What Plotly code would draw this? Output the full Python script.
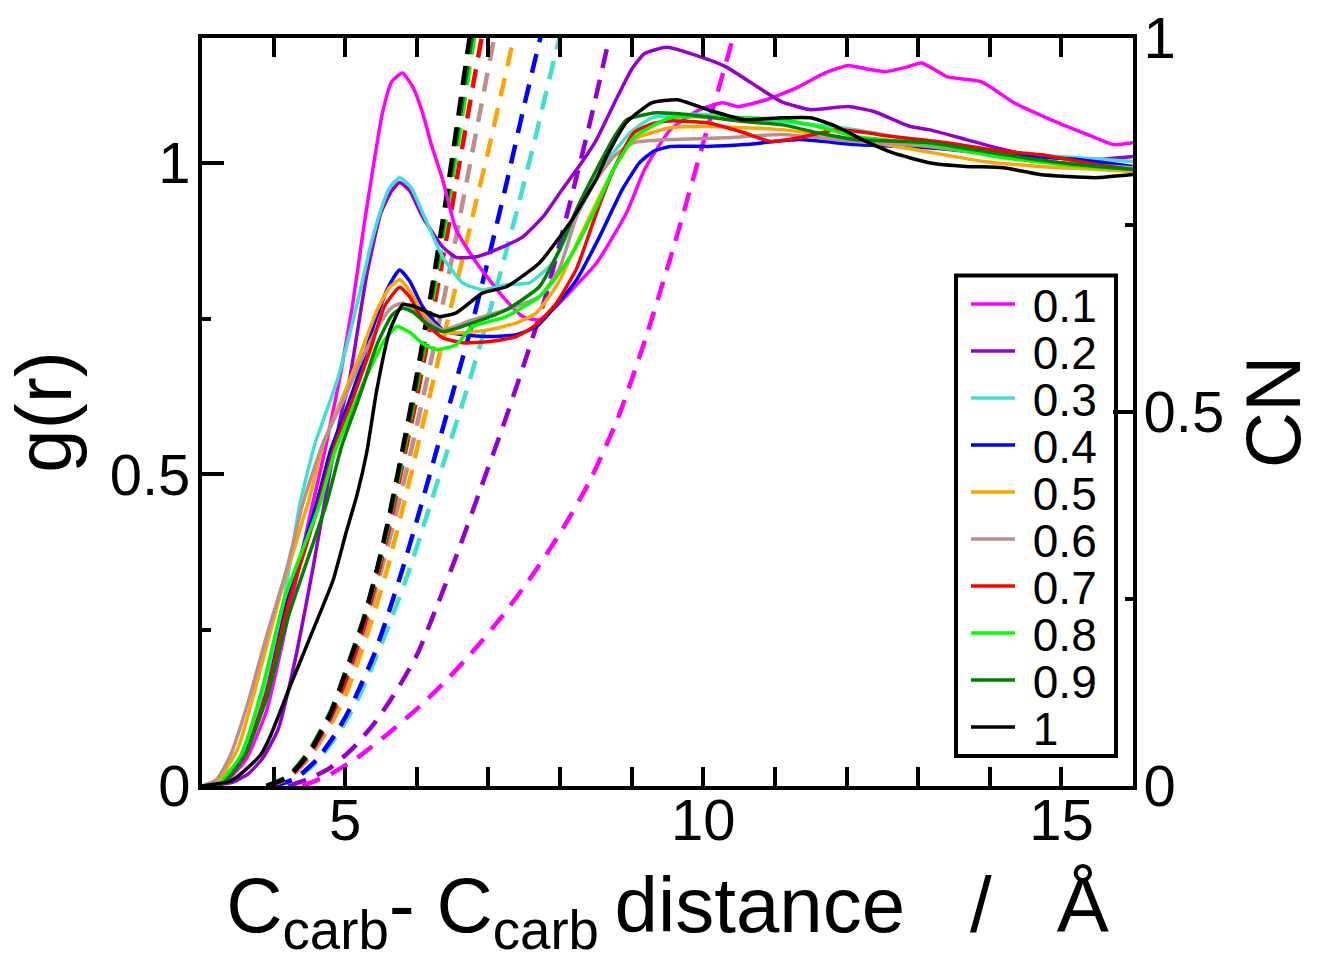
import plotly.graph_objects as go

FONT = "Liberation Sans, Arial, Helvetica, sans-serif"

# ---------------- data ----------------
fractions = ["0.1", "0.2", "0.3", "0.4", "0.5", "0.6", "0.7", "0.8", "0.9", "1"]
colors = ["#FF00FF", "#9400D3", "#40E0D0", "#0000FF", "#FFA500",
          "#BC8F8F", "#FF0000", "#00FF00", "#008000", "#000000"]

# g(r) curves (solid), r in Angstrom
gr_r_01 = [3.0, 3.3, 3.6, 3.9, 4.2, 4.5, 4.7, 4.92, 5.1, 5.25, 5.4, 5.52, 5.65, 5.8, 5.95, 6.08, 6.2, 6.36, 6.55, 6.83, 7.2, 7.48, 7.71, 7.97, 8.2, 8.51, 8.93, 9.18, 9.54, 9.95, 10.27, 10.48, 10.88, 11.3, 11.7, 12.02, 12.3, 12.54, 12.8, 13.05, 13.4, 13.88, 14.34, 14.85, 15.43, 15.73, 16.0]
gr_g_01 = [0.0, 0.005, 0.04, 0.12, 0.27, 0.43, 0.53, 0.652, 0.77, 0.89, 1.0, 1.08, 1.13, 1.144, 1.12, 1.08, 1.03, 0.973, 0.892, 0.84, 0.785, 0.753, 0.748, 0.772, 0.8, 0.839, 0.92, 0.989, 1.053, 1.085, 1.096, 1.09, 1.101, 1.12, 1.144, 1.156, 1.15, 1.146, 1.152, 1.16, 1.138, 1.13, 1.096, 1.069, 1.042, 1.029, 1.032]

gr_r_02 = [3.0, 3.4, 3.65, 3.85, 4.06, 4.27, 4.55, 4.75, 4.95, 5.06, 5.3, 5.5, 5.65, 5.76, 5.9, 6.08, 6.36, 6.55, 6.83, 7.2, 7.48, 7.76, 8.03, 8.3, 8.5, 8.65, 8.82, 9.0, 9.18, 9.49, 9.95, 10.31, 10.67, 11.09, 11.5, 12.02, 12.38, 12.89, 13.15, 13.67, 14.19, 14.7, 15.47, 16.0]
gr_g_02 = [0.0, 0.005, 0.02, 0.045, 0.09, 0.186, 0.35, 0.48, 0.6, 0.652, 0.82, 0.92, 0.955, 0.968, 0.955, 0.913, 0.865, 0.848, 0.849, 0.865, 0.881, 0.913, 0.957, 1.0, 1.035, 1.07, 1.11, 1.15, 1.175, 1.185, 1.17, 1.154, 1.128, 1.098, 1.085, 1.09, 1.082, 1.058, 1.053, 1.037, 1.021, 1.01, 1.005, 1.01]

gr_r_03 = [3.0, 3.2, 3.5, 3.8, 4.1, 4.37, 4.58, 4.75, 4.9, 5.05, 5.2, 5.35, 5.5, 5.62, 5.76, 5.92, 6.08, 6.36, 6.64, 6.92, 7.25, 7.57, 7.9, 8.3, 8.7, 9.0, 9.28, 9.7, 10.06, 10.5, 11.09, 12.12, 13.15, 14.19, 15.22, 16.0]
gr_g_03 = [0.0, 0.005, 0.04, 0.13, 0.27, 0.454, 0.55, 0.605, 0.655, 0.72, 0.79, 0.865, 0.925, 0.96, 0.976, 0.96, 0.92, 0.849, 0.807, 0.796, 0.804, 0.807, 0.84, 0.93, 1.01, 1.05, 1.072, 1.077, 1.077, 1.072, 1.066, 1.053, 1.032, 1.016, 1.008, 1.002]

gr_r_04 = [3.0, 3.3, 3.6, 3.9, 4.2, 4.6, 4.8, 5.0, 5.2, 5.4, 5.6, 5.76, 5.9, 6.08, 6.36, 6.64, 7.02, 7.39, 7.67, 7.95, 8.23, 8.55, 8.87, 9.11, 9.3, 9.54, 10.06, 10.57, 11.34, 12.12, 13.15, 14.19, 15.22, 16.0]
gr_g_04 = [0.0, 0.005, 0.05, 0.15, 0.3, 0.454, 0.54, 0.6, 0.665, 0.74, 0.8, 0.828, 0.81, 0.769, 0.732, 0.724, 0.721, 0.724, 0.737, 0.772, 0.812, 0.881, 0.957, 1.0, 1.018, 1.026, 1.026, 1.029, 1.037, 1.029, 1.024, 1.013, 1.005, 0.994]

gr_r_05 = [3.0, 3.2, 3.5, 3.8, 4.1, 4.48, 4.7, 4.95, 5.2, 5.45, 5.62, 5.76, 5.9, 6.08, 6.36, 6.64, 7.02, 7.39, 7.67, 7.99, 8.23, 8.51, 8.75, 9.03, 9.54, 10.06, 11.09, 12.12, 13.0, 13.92, 14.7, 15.4, 16.0]
gr_g_05 = [0.0, 0.005, 0.06, 0.18, 0.31, 0.454, 0.55, 0.62, 0.69, 0.765, 0.8, 0.812, 0.795, 0.759, 0.729, 0.727, 0.732, 0.743, 0.759, 0.81, 0.87, 0.936, 0.99, 1.037, 1.056, 1.058, 1.053, 1.037, 1.02, 1.002, 0.994, 0.99, 0.986]

gr_r_06 = [3.0, 3.2, 3.4, 3.64, 3.9, 4.18, 4.41, 4.69, 5.0, 5.25, 5.5, 5.65, 5.8, 6.0, 6.36, 6.78, 7.25, 7.71, 7.99, 8.25, 8.51, 8.75, 9.03, 9.54, 10.31, 11.09, 12.12, 13.15, 14.19, 15.0, 16.0]
gr_g_06 = [0.0, 0.01, 0.05, 0.133, 0.24, 0.347, 0.454, 0.55, 0.625, 0.69, 0.745, 0.768, 0.775, 0.76, 0.732, 0.748, 0.764, 0.785, 0.83, 0.92, 0.973, 1.01, 1.032, 1.037, 1.04, 1.045, 1.034, 1.026, 1.01, 1.0, 0.992]

gr_r_07 = [3.0, 3.3, 3.6, 3.9, 4.2, 4.6, 4.85, 5.1, 5.35, 5.55, 5.76, 5.9, 6.08, 6.36, 6.64, 7.02, 7.39, 7.67, 7.95, 8.23, 8.51, 8.75, 9.03, 9.3, 9.54, 10.06, 10.57, 10.94, 11.34, 11.86, 12.64, 13.4, 14.19, 14.7, 15.47, 16.0]
gr_g_07 = [0.0, 0.005, 0.05, 0.15, 0.29, 0.44, 0.545, 0.62, 0.7, 0.77, 0.8, 0.785, 0.748, 0.719, 0.711, 0.713, 0.721, 0.74, 0.775, 0.83, 0.92, 0.99, 1.048, 1.063, 1.067, 1.064, 1.048, 1.034, 1.04, 1.053, 1.042, 1.032, 1.018, 1.013, 0.997, 0.989]

gr_r_08 = [3.0, 3.25, 3.55, 3.85, 4.15, 4.65, 4.85, 5.1, 5.35, 5.55, 5.72, 5.9, 6.08, 6.28, 6.55, 6.78, 7.25, 7.71, 7.95, 8.2, 8.51, 8.75, 9.03, 9.54, 10.57, 11.09, 11.6, 12.12, 13.15, 14.19, 15.2, 16.0]
gr_g_08 = [0.0, 0.005, 0.05, 0.16, 0.3, 0.454, 0.535, 0.605, 0.67, 0.715, 0.737, 0.728, 0.71, 0.7, 0.708, 0.737, 0.753, 0.785, 0.817, 0.86, 0.93, 0.99, 1.04, 1.072, 1.072, 1.069, 1.058, 1.042, 1.029, 1.008, 0.995, 0.989]

gr_r_09 = [3.0, 3.3, 3.6, 3.9, 4.2, 4.74, 4.95, 5.2, 5.45, 5.65, 5.8, 5.95, 6.1, 6.36, 6.78, 7.25, 7.71, 7.99, 8.25, 8.51, 8.75, 8.93, 9.34, 9.8, 10.57, 11.09, 11.6, 12.12, 13.15, 14.19, 15.22, 16.0]
gr_g_09 = [0.0, 0.005, 0.05, 0.14, 0.27, 0.454, 0.545, 0.625, 0.71, 0.755, 0.767, 0.76, 0.745, 0.729, 0.743, 0.764, 0.801, 0.86, 0.93, 0.989, 1.04, 1.069, 1.08, 1.077, 1.066, 1.061, 1.048, 1.037, 1.032, 1.013, 0.997, 0.989]

gr_r_10 = [3.0, 3.4, 3.6, 3.82, 3.95, 4.23, 4.55, 4.83, 5.02, 5.16, 5.3, 5.44, 5.62, 5.8, 5.95, 6.15, 6.32, 6.55, 6.92, 7.25, 7.71, 8.17, 8.51, 8.65, 8.93, 9.28, 9.64, 10.06, 10.57, 11.09, 11.5, 11.86, 12.22, 12.64, 13.15, 13.67, 14.19, 14.7, 15.47, 16.0]
gr_g_10 = [0.0, 0.008, 0.025, 0.05, 0.079, 0.16, 0.25, 0.33, 0.41, 0.465, 0.535, 0.635, 0.73, 0.772, 0.77, 0.76, 0.753, 0.759, 0.791, 0.801, 0.839, 0.909, 0.975, 1.01, 1.065, 1.096, 1.101, 1.085, 1.069, 1.072, 1.072, 1.058, 1.037, 1.016, 1.0, 0.994, 0.992, 0.981, 0.976, 0.981]

# coordination number curves (dashed, right axis)
cn_r_01 = [4.4, 4.8, 5.2, 5.6, 6.0, 6.4, 6.8, 7.2, 7.6, 8.0, 8.4, 8.8, 9.2, 9.6, 10.0, 10.4, 10.8]
cn_n_01 = [0.0, 0.016, 0.04, 0.07, 0.103, 0.14, 0.182, 0.228, 0.28, 0.338, 0.405, 0.49, 0.6, 0.725, 0.86, 0.995, 1.13]

cn_r_02 = [4.2, 4.5, 4.8, 5.1, 5.4, 5.7, 6.0, 6.3, 6.6, 6.9, 7.2, 7.5, 7.8, 8.1, 8.4, 8.7, 9.0]
cn_n_02 = [0.0, 0.01, 0.025, 0.05, 0.083, 0.125, 0.175, 0.245, 0.32, 0.4, 0.48, 0.565, 0.655, 0.765, 0.88, 1.005, 1.13]

cn_r_03 = [4.0, 4.3, 4.6, 4.9, 5.15, 5.4, 5.65, 5.9, 6.15, 6.4, 6.65, 6.9, 7.15, 7.4, 7.65, 7.9, 8.15]
cn_n_03 = [0.0, 0.009, 0.032, 0.07, 0.111, 0.165, 0.225, 0.29, 0.365, 0.44, 0.515, 0.595, 0.68, 0.77, 0.865, 0.965, 1.06]

cn_r_04 = [4.0, 4.3, 4.6, 4.9, 5.1, 5.4, 5.6, 5.8, 6.0, 6.25, 6.5, 6.75, 7.0, 7.25, 7.5, 7.75, 8.0]
cn_n_04 = [0.0, 0.01, 0.035, 0.075, 0.11, 0.175, 0.23, 0.29, 0.355, 0.44, 0.525, 0.61, 0.705, 0.805, 0.91, 1.01, 1.1]

cn_r_05 = [3.9, 4.2, 4.5, 4.8, 5.0, 5.3, 5.58, 5.8, 6.0, 6.2, 6.4, 6.6, 6.8, 7.0, 7.2, 7.4, 7.6]
cn_n_05 = [0.0, 0.01, 0.038, 0.083, 0.12, 0.2, 0.288, 0.37, 0.45, 0.53, 0.61, 0.69, 0.77, 0.85, 0.935, 1.02, 1.1]

cn_r_06 = [3.9, 4.2, 4.5, 4.8, 5.0, 5.25, 5.5, 5.7, 5.9, 6.1, 6.3, 6.5, 6.7, 6.9, 7.1, 7.3]
cn_n_06 = [0.0, 0.01, 0.04, 0.088, 0.135, 0.2, 0.288, 0.36, 0.44, 0.525, 0.615, 0.71, 0.81, 0.91, 1.01, 1.1]

cn_r_07 = [3.9, 4.2, 4.5, 4.8, 5.0, 5.25, 5.46, 5.6, 5.8, 6.0, 6.2, 6.4, 6.6, 6.8, 7.0]
cn_n_07 = [0.0, 0.011, 0.043, 0.093, 0.14, 0.21, 0.285, 0.34, 0.43, 0.52, 0.62, 0.725, 0.835, 0.945, 1.05]

cn_r_08 = [3.9, 4.2, 4.5, 4.8, 5.0, 5.25, 5.44, 5.6, 5.8, 6.0, 6.2, 6.4, 6.6, 6.75, 6.9]
cn_n_08 = [0.0, 0.013, 0.047, 0.1, 0.15, 0.22, 0.285, 0.348, 0.44, 0.535, 0.64, 0.755, 0.875, 0.97, 1.06]

cn_r_09 = [3.9, 4.2, 4.5, 4.8, 5.0, 5.25, 5.44, 5.6, 5.8, 6.0, 6.2, 6.4, 6.6, 6.75, 6.9]
cn_n_09 = [0.0, 0.013, 0.047, 0.1, 0.152, 0.222, 0.288, 0.352, 0.445, 0.54, 0.65, 0.77, 0.895, 0.99, 1.08]

cn_r_10 = [3.9, 4.2, 4.5, 4.8, 5.0, 5.25, 5.44, 5.6, 5.8, 6.0, 6.2, 6.4, 6.6, 6.75, 6.9]
cn_n_10 = [0.0, 0.012, 0.045, 0.098, 0.15, 0.22, 0.288, 0.355, 0.45, 0.55, 0.66, 0.78, 0.91, 1.01, 1.1]

x_tick_vals = [5, 10, 15]
g_tick_vals = [0, 0.5, 1]
cn_tick_vals = [0, 0.5, 1]
g_tick_text = ["0", "0.5", "1"]
cn_tick_text = ["0", "0.5", "1"]

gr_r = [gr_r_01, gr_r_02, gr_r_03, gr_r_04, gr_r_05, gr_r_06, gr_r_07, gr_r_08, gr_r_09, gr_r_10]
gr_g = [gr_g_01, gr_g_02, gr_g_03, gr_g_04, gr_g_05, gr_g_06, gr_g_07, gr_g_08, gr_g_09, gr_g_10]
cn_r = [cn_r_01, cn_r_02, cn_r_03, cn_r_04, cn_r_05, cn_r_06, cn_r_07, cn_r_08, cn_r_09, cn_r_10]
cn_n = [cn_n_01, cn_n_02, cn_n_03, cn_n_04, cn_n_05, cn_n_06, cn_n_07, cn_n_08, cn_n_09, cn_n_10]

# ---------------- layout geometry (px) ----------------
W, H = 1317, 972
PL, PR, PT, PB = 202, 1133, 38, 786   # plot area edges
PW, PH = PR - PL, PB - PT


def px_x(px):
    return (px - PL) / PW


def px_y(py):
    return (PB - py) / PH


legend_ids = ["legend"] + ["legend%d" % k for k in range(2, 11)]

fig = go.Figure()

# dashed CN curves (right axis, base layer)
for i in range(10):
    fig.add_trace(go.Scatter(
        x=cn_r[i], y=cn_n[i], xaxis="x", yaxis="y", mode="lines",
        line=dict(color=colors[i], width=4.5, dash="19px,12px", shape="spline", smoothing=0.6),
        showlegend=False, hoverinfo="skip"))

# solid g(r) curves (left axis, overlay layer on top)
for i in range(10):
    fig.add_trace(go.Scatter(
        x=gr_r[i], y=gr_g[i], xaxis="x", yaxis="y2", mode="lines",
        line=dict(color=colors[i], width=3.5, shape="spline", smoothing=0.5),
        name="\u00a0" + fractions[i], legend=legend_ids[i]))

tickfont = dict(family=FONT, size=58, color="black")
titlefont = dict(family=FONT, size=78, color="black")

layout = dict(
    width=W, height=H,
    margin=dict(l=PL, r=W - PR, t=PT, b=H - PB, pad=0, autoexpand=False),
    paper_bgcolor="white", plot_bgcolor="white",
    font=dict(family=FONT, color="black"),
    xaxis=dict(
        range=[3, 16], showgrid=False, zeroline=False, automargin=False,
        showline=True, linecolor="black", linewidth=4, mirror="allticks",
        ticks="inside", ticklen=19, tickwidth=4, tickcolor="black",
        tickvals=x_tick_vals, ticktext=[str(v) for v in x_tick_vals],
        minor=dict(ticks="inside", ticklen=8, tickwidth=4, tickcolor="black",
                   tick0=0, dtick=1, showgrid=False),
        tickfont=tickfont,
        title=dict(text="C<sub>carb</sub>-\u00a0C<sub>carb</sub>\u2009distance\u00a0\u00a0\u00a0/\u00a0\u00a0\u00a0Å",
                   font=titlefont, standoff=28),
    ),
    yaxis=dict(
        range=[0, 1], side="right", anchor="x", showgrid=False, zeroline=False,
        automargin=False,
        showline=True, linecolor="black", linewidth=4,
        ticks="inside", ticklen=20, tickwidth=4, tickcolor="black",
        tickvals=cn_tick_vals, ticktext=cn_tick_text,
        minor=dict(ticks="inside", ticklen=8, tickwidth=4, tickcolor="black",
                   tick0=0, dtick=0.25, showgrid=False),
        tickfont=tickfont,
        title=dict(text="CN", font=titlefont, standoff=54),
    ),
    yaxis2=dict(
        range=[0, 1.2], side="left", overlaying="y", anchor="x",
        showgrid=False, zeroline=False, automargin=False,
        showline=True, linecolor="black", linewidth=4,
        ticks="inside", ticklen=22, tickwidth=4, tickcolor="black",
        tickvals=g_tick_vals, ticktext=g_tick_text,
        minor=dict(ticks="inside", ticklen=9, tickwidth=4, tickcolor="black",
                   tick0=0, dtick=0.25, showgrid=False),
        tickfont=tickfont,
        title=dict(text="g(r)", font=titlefont, standoff=24),
    ),
    shapes=[dict(type="rect", xref="paper", yref="paper",
                 x0=px_x(956), x1=px_x(1116), y0=px_y(756), y1=px_y(275.5),
                 line=dict(color="black", width=4), fillcolor="rgba(0,0,0,0)", layer="above")],
)

LEG_X = px_x(966)
for i, lid in enumerate(legend_ids):
    layout[lid] = dict(
        x=LEG_X, xanchor="left", y=px_y(304 + 47 * i), yanchor="middle",
        bgcolor="rgba(0,0,0,0)", borderwidth=0, itemwidth=44,
        font=dict(family=FONT, size=46, color="black"),
        tracegroupgap=0,
    )

fig.update_layout(**layout)

# pull tick labels closer to the axis lines (as in the reference)
for ax_name, shift in (("xaxis", -20), ("yaxis", -5), ("yaxis2", -4)):
    try:
        fig.layout[ax_name].ticklabelstandoff = shift
    except Exception:
        pass

fig.write_html("out.html",
               config={"displayModeBar": False},
               post_script="document.body.style.margin='0px';document.body.style.overflow='hidden';")
